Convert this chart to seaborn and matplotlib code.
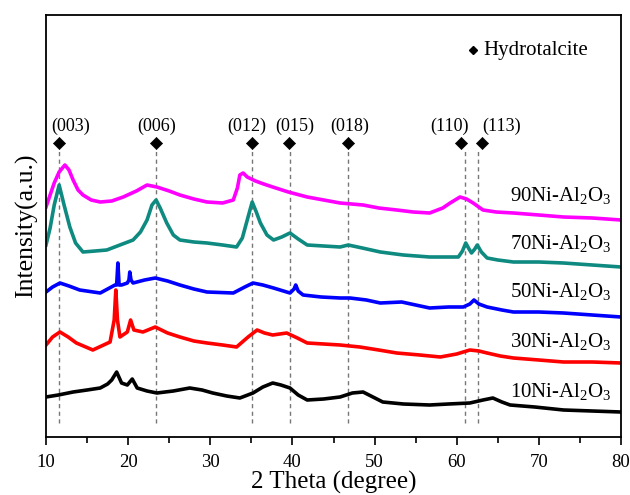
import matplotlib
matplotlib.use("Agg")
import matplotlib.pyplot as plt
import pandas as pd
import seaborn as sb

# 2 theta positions (degree) and relative intensities
tt_90 = [10.0, 10.5, 11.0, 11.6, 12.3, 12.8, 13.3, 13.9, 14.5, 15.5, 16.6, 18.0,
         19.4, 21.0, 22.3, 23.5, 25.0, 26.3, 28.0, 29.6, 31.5, 32.8, 33.3, 33.6,
         34.0, 34.5, 35.5, 36.5, 37.6, 39.5, 41.8, 43.8, 45.8, 48.6, 50.5, 52.7,
         54.7, 56.7, 58.3, 59.2, 60.4, 61.2, 62.0, 63.2, 64.8, 66.9, 70.0, 73.0,
         76.5, 80.0]
int_90 = [230, 242, 254, 265, 272, 267, 257, 247, 242, 237, 235, 236,
          240, 246, 252, 250, 246, 242, 238, 235, 234, 237, 249, 262,
          264, 260, 256, 253, 250, 245, 240, 237, 234, 232, 229, 227,
          225, 224, 229, 234, 240, 238, 234, 227, 225, 224, 222, 220,
          219, 217]

tt_70 = [10.0, 10.5, 11.0, 11.6, 12.2, 12.9, 13.6, 14.5, 16.0, 17.4, 19.0, 20.6,
         21.5, 22.3, 22.9, 23.4, 23.9, 24.7, 25.5, 26.3, 28.0, 29.6, 31.5, 33.2,
         33.9, 34.5, 35.1, 35.6, 36.1, 36.9, 37.7, 38.7, 39.7, 40.7, 41.8, 43.8,
         45.8, 46.8, 48.5, 50.7, 53.5, 56.7, 60.2, 60.7, 61.1, 61.5, 61.8, 62.2,
         62.5, 63.0, 63.7, 65.0, 66.9, 70.0, 73.0, 76.5, 80.0]
int_70 = [192, 209, 232, 252, 232, 210, 194, 185, 186, 187, 192, 197,
          205, 217, 232, 237, 229, 214, 202, 197, 195, 194, 192, 190,
          199, 217, 235, 225, 214, 202, 197, 200, 204, 198, 192, 191,
          190, 192, 189, 185, 182, 180, 180, 186, 194, 188, 184, 188,
          192, 185, 179, 177, 175, 175, 174, 172, 170]

tt_50 = [10.0, 10.8, 11.7, 12.8, 14.1, 16.6, 18.4, 18.6, 18.75, 18.9, 19.2, 19.9,
         20.1, 20.2, 20.35, 20.6, 22.0, 23.3, 24.8, 26.3, 28.0, 29.6, 32.8, 34.2,
         35.2, 36.4, 37.7, 39.7, 40.2, 40.4, 40.7, 41.3, 43.5, 45.8, 47.0, 49.0,
         50.7, 53.3, 55.0, 56.7, 59.0, 60.8, 61.6, 62.1, 62.7, 63.7, 65.5, 66.9,
         70.0, 73.0, 76.5, 80.0]
int_50 = [145, 150, 154, 151, 147, 144, 152, 152, 174, 152, 152, 154,
          157, 165, 157, 154, 157, 159, 156, 152, 148, 145, 144, 150,
          154, 152, 149, 144, 148, 152, 146, 142, 140, 139, 139, 137,
          134, 135, 132, 129, 130, 130, 133, 137, 133, 130, 127, 125,
          125, 124, 122, 120]

tt_30 = [10.0, 10.8, 11.7, 12.7, 13.7, 15.7, 17.8, 18.3, 18.5, 18.7, 19.0, 19.9,
         20.3, 20.7, 21.8, 23.3, 24.8, 26.3, 28.0, 29.6, 31.5, 33.2, 34.6, 35.7,
         36.6, 37.6, 39.3, 40.6, 41.8, 43.8, 45.8, 48.2, 50.5, 52.7, 55.5, 58.0,
         60.0, 61.6, 62.7, 63.7, 65.3, 66.9, 70.0, 73.0, 76.5, 80.0]
int_30 = [92, 100, 105, 100, 94, 87, 95, 117, 147, 117, 100, 105,
          117, 107, 105, 110, 104, 100, 96, 94, 92, 90, 100, 107,
          104, 102, 104, 99, 94, 93, 92, 90, 87, 84, 82, 80,
          83, 87, 86, 84, 81, 79, 77, 75, 75, 74]

tt_10 = [10.0, 11.5, 13.3, 15.0, 16.6, 17.5, 18.0, 18.6, 19.2, 19.9, 20.5, 21.1,
         22.3, 23.5, 25.5, 27.5, 29.0, 30.3, 32.0, 33.6, 35.2, 36.4, 37.6, 38.6,
         39.7, 40.7, 41.8, 43.8, 45.8, 47.3, 48.6, 49.8, 51.0, 53.5, 56.7, 59.0,
         61.6, 63.2, 64.4, 65.5, 66.5, 69.5, 73.0, 76.5, 80.0]
int_10 = [40, 42, 45, 47, 49, 53, 57, 65, 54, 52, 58, 49,
          46, 44, 46, 49, 47, 44, 41, 39, 44, 50, 54, 52,
          49, 42, 37, 38, 40, 44, 45, 40, 35, 33, 32, 33,
          34, 37, 39, 35, 32, 30, 27, 26, 25]

samples = ['10Ni-Al$_2$O$_3$', '30Ni-Al$_2$O$_3$', '50Ni-Al$_2$O$_3$',
           '70Ni-Al$_2$O$_3$', '90Ni-Al$_2$O$_3$']
colors = ['black', '#ff0000', '#0000ff', '#0e8a80', '#ff00ff']
label_y = [45, 95, 145, 194, 241]

# hydrotalcite reflections
hkl = ['(003)', '(006)', '(012)', '(015)', '(018)', '(110)', '(113)']
hkl_pos = [11.6, 23.35, 35.1, 39.7, 46.8, 61.0, 62.55]
marker_pos = [11.6, 23.35, 35.1, 39.6, 46.8, 60.5, 63.1]
hkl_text_pos = [13.0, 23.5, 34.5, 40.3, 47.0, 59.1, 65.5]

plt.rcParams['font.family'] = ['Liberation Serif', 'DejaVu Serif']
plt.rcParams['mathtext.fontset'] = 'custom'
plt.rcParams['mathtext.rm'] = 'Liberation Serif'
plt.rcParams['mathtext.default'] = 'rm'

fig = plt.figure(figsize=(6.3, 4.95), dpi=100)
ax = fig.add_axes([46 / 630, 58 / 495, 575 / 630, 422 / 495])

series = [(tt_10, int_10), (tt_30, int_30), (tt_50, int_50),
          (tt_70, int_70), (tt_90, int_90)]
for (tt, inten), c in zip(series, colors):
    df = pd.DataFrame({'2theta': tt, 'I': inten})
    sb.lineplot(data=df, x='2theta', y='I', color=c, linewidth=2.6, ax=ax)

# dashed guide lines and diamond markers
for p in hkl_pos:
    ax.plot([p, p], [14, 287], color='#777777', linestyle=(0, (3, 2.5)),
            linewidth=1, zorder=0)
mk = pd.DataFrame({'x': marker_pos, 'y': [294] * len(marker_pos)})
sb.scatterplot(data=mk, x='x', y='y', marker='D', s=38, color='black',
               edgecolor='black', ax=ax)
for t, x in zip(hkl, hkl_text_pos):
    ax.text(x, 311, t, ha='center', va='center', fontsize=13)

for lab, y in zip(samples, label_y):
    ax.text(78.9, y, lab, ha='right', va='center', fontsize=15)

# key
ax.plot([62.0], [387], marker='D', markersize=4.5, color='black')
ax.text(63.3, 387, 'Hydrotalcite', ha='left', va='center', fontsize=15)

ax.set_xlim(10, 80)
ax.set_ylim(0, 422)
ax.set_xticks(range(10, 81, 10))
ax.set_xticks(range(15, 80, 10), minor=True)
ax.set_yticks([])
ax.tick_params(axis='x', which='major', direction='out', length=6, width=1.2,
               labelsize=13.5, pad=6)
ax.tick_params(axis='x', which='minor', direction='out', length=4, width=1.2)
for s in ax.spines.values():
    s.set_linewidth(1.3)
ax.set_xlabel('2 Theta (degree)', fontsize=18, labelpad=0)
ax.set_ylabel('Intensity(a.u.)', fontsize=18.5, labelpad=6)

plt.savefig('out.png', dpi=100)
